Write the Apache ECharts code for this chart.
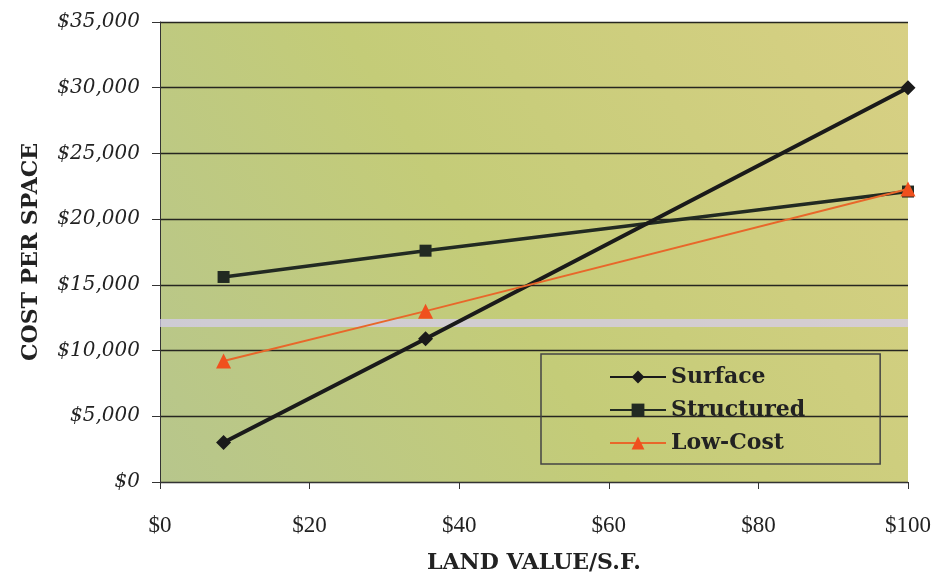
<!DOCTYPE html>
<html>
<head>
<meta charset="utf-8">
<script src="https://cdn.jsdelivr.net/npm/echarts@6/dist/echarts.min.js"></script>
<style>
html,body{margin:0;padding:0;background:#fff;}
#chart{width:932px;height:574px;}
</style>
</head>
<body>
<div id="chart"></div>
<script>
const landValues = [8.5, 35.5, 100];
const surface = [3000, 10900, 30000];
const structured = [15600, 17600, 22100];
const lowCost = [9200, 13000, 22300];
const xTicks = ['$0', '$20', '$40', '$60', '$80', '$100'];
const yTicks = ['$0', '$5,000', '$10,000', '$15,000', '$20,000', '$25,000', '$30,000', '$35,000'];

const pairs = arr => landValues.map((x, i) => [x, arr[i]]);
const serif = 'DejaVu Serif';

const chart = echarts.init(document.getElementById('chart'));
chart.setOption({
  animation: false,
  backgroundColor: '#ffffff',
  grid: {
    left: 160, right: 24, top: 22, bottom: 92,
    containLabel: false,
    outerBoundsMode: 'none',
    show: true,
    borderWidth: 0,
    backgroundColor: {
      type: 'linear', x: 0, y: 1, x2: 1, y2: 0,
      colorStops: [
        {offset: 0, color: '#b7c68c'},
        {offset: 0.45, color: '#c4cc78'},
        {offset: 1, color: '#d8d084'}
      ]
    }
  },
  xAxis: {
    type: 'value', min: 0, max: 100, interval: 20,
    axisLine: {show: true, lineStyle: {color: '#333', width: 1}},
    axisTick: {show: true, length: 7, inside: false, lineStyle: {color: '#333'}},
    splitLine: {show: false},
    axisLabel: {
      margin: 32, color: '#222', fontFamily: 'Liberation Serif', fontSize: 23,
      formatter: v => xTicks[Math.round(v / 20)]
    },
    name: 'LAND VALUE/S.F.', nameLocation: 'middle', nameGap: 70,
    nameTextStyle: {fontFamily: serif, fontWeight: 'bold', fontSize: 22, color: '#222'}
  },
  yAxis: {
    type: 'value', min: 0, max: 35000, interval: 5000,
    axisLine: {show: true, lineStyle: {color: '#333', width: 1}},
    axisTick: {show: true, length: 8, lineStyle: {color: '#333'}},
    splitLine: {show: true, lineStyle: {color: '#262620', width: 1.4}},
    axisLabel: {
      margin: 20, color: '#222', fontFamily: serif, fontStyle: 'italic', fontSize: 20,
      formatter: v => yTicks[Math.round(v / 5000)]
    },
    name: 'COST PER SPACE', nameLocation: 'middle', nameGap: 118, nameRotate: 90,
    nameTextStyle: {fontFamily: serif, fontWeight: 'bold', fontSize: 22, color: '#222'}
  },
  legend: {
    orient: 'vertical', left: 541, top: 354,
    padding: [12, 75, 10, 68],
    borderColor: '#444', borderWidth: 1.5,
    backgroundColor: 'transparent',
    itemWidth: 56, itemHeight: 16, itemGap: 11,
    textStyle: {fontFamily: serif, fontWeight: 'bold', fontSize: 22, color: '#222', lineHeight: 22},
    data: ['Surface', 'Structured', 'Low-Cost']
  },
  series: [
    {
      name: 'Surface', type: 'line', data: pairs(surface),
      symbol: 'diamond', symbolSize: 15,
      lineStyle: {color: '#1a1a1a', width: 4},
      itemStyle: {color: '#1a1a1a'},
      markArea: {
        silent: true,
        itemStyle: {color: 'rgba(215,205,245,0.7)'},
        data: [[{yAxis: 11800}, {yAxis: 12400}]]
      },
      z: 3
    },
    {
      name: 'Structured', type: 'line', data: pairs(structured),
      symbol: 'rect', symbolSize: 12,
      lineStyle: {color: '#222a22', width: 3.5},
      itemStyle: {color: '#222a22'},
      z: 2
    },
    {
      name: 'Low-Cost', type: 'line', data: pairs(lowCost),
      symbol: 'triangle', symbolSize: 15,
      lineStyle: {color: '#e8672a', width: 2},
      itemStyle: {color: '#f0501e'},
      z: 4
    }
  ]
});
</script>
</body>
</html>
